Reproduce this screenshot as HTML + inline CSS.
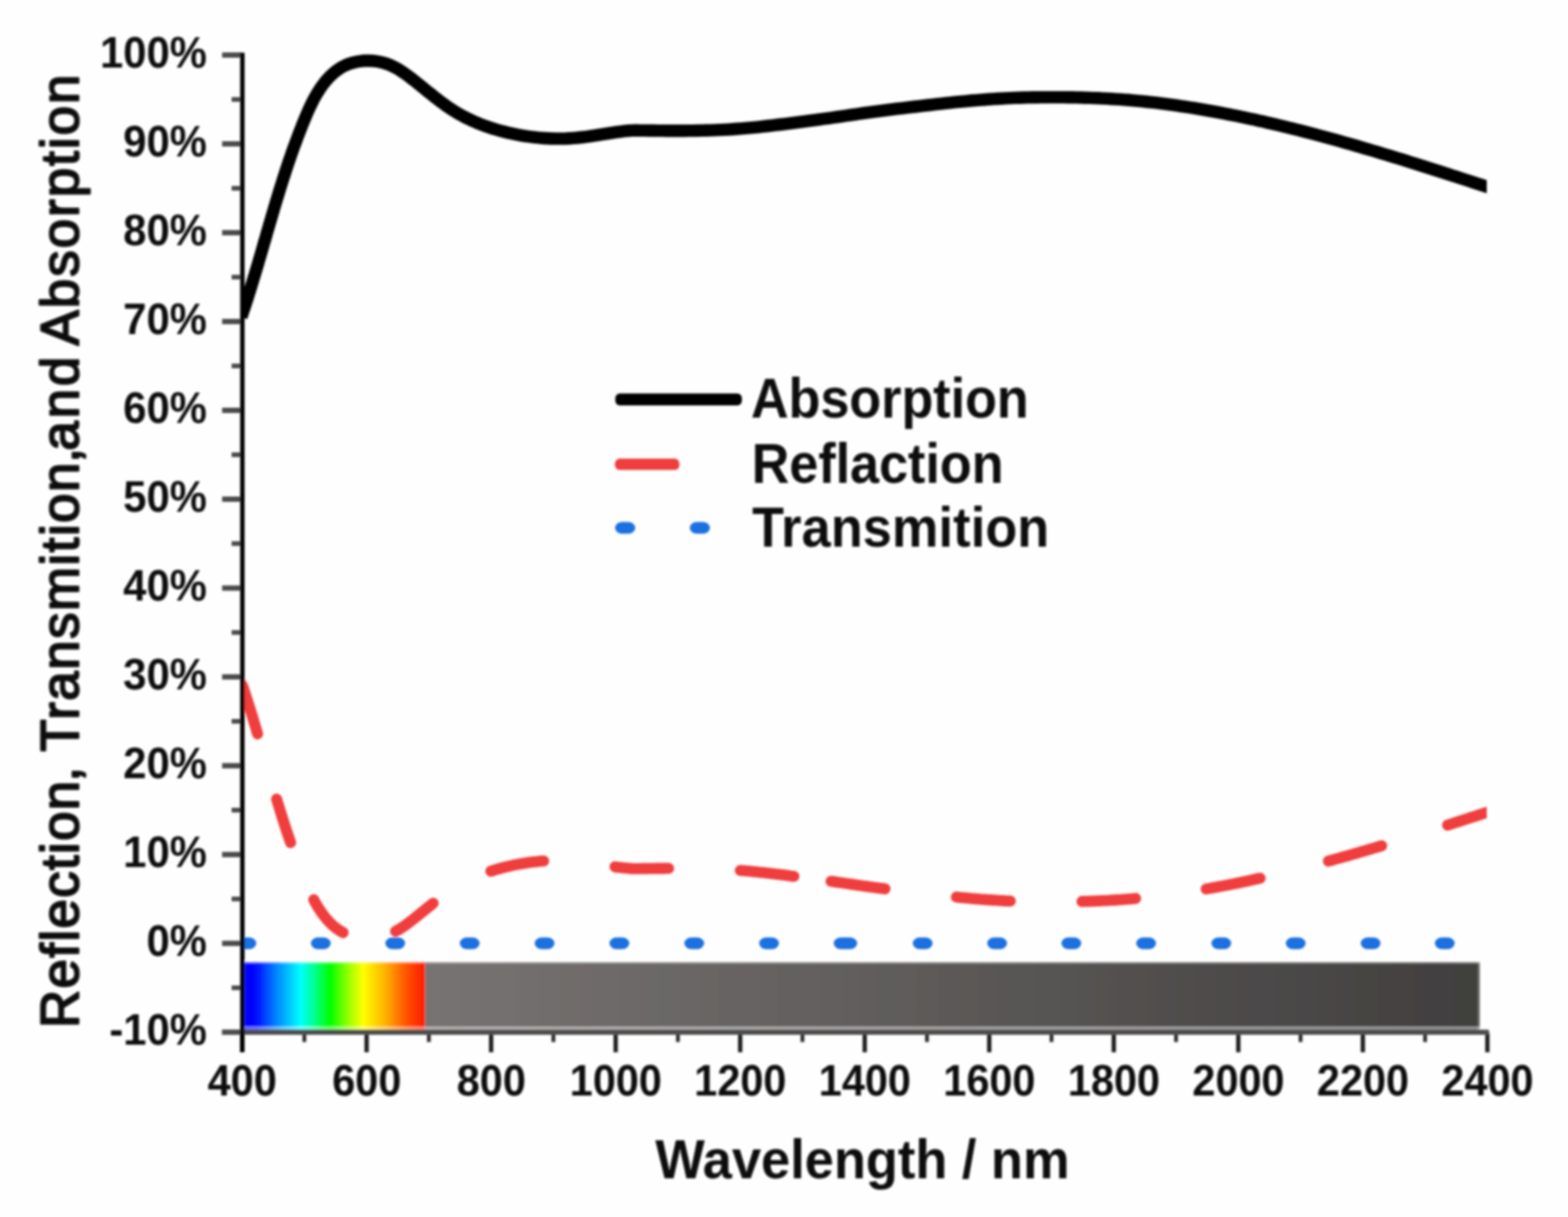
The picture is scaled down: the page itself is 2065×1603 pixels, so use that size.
<!DOCTYPE html>
<html lang="en"><head><meta charset="utf-8"><title>Reflection, Transmition, and Absorption</title>
<style>
html,body{margin:0;padding:0;background:#fff;}
body{width:2065px;height:1603px;overflow:hidden;}
svg{display:block;}
text{font-family:"Liberation Sans",Arial,Helvetica,sans-serif;fill:#0a0a0a;}
.b{font-weight:bold;}
</style></head><body>
<svg width="2065" height="1603" viewBox="0 0 2065 1603">
<defs>
<linearGradient id="rb" x1="0" y1="0" x2="1" y2="0">
<stop offset="0" stop-color="#0000ff"/>
<stop offset="0.06" stop-color="#0008ff"/>
<stop offset="0.17" stop-color="#0080ff"/>
<stop offset="0.31" stop-color="#00ffff"/>
<stop offset="0.385" stop-color="#00ff90"/>
<stop offset="0.474" stop-color="#00ff00"/>
<stop offset="0.57" stop-color="#90ff00"/>
<stop offset="0.657" stop-color="#ffff00"/>
<stop offset="0.78" stop-color="#ffb000"/>
<stop offset="0.9" stop-color="#ff5000"/>
<stop offset="1" stop-color="#ff1a00"/>
</linearGradient>
<linearGradient id="gr" x1="0" y1="0" x2="1" y2="0"><stop offset="0" stop-color="#777372"/><stop offset="1" stop-color="#403e3d"/></linearGradient>
<filter id="bl" x="-5%" y="-5%" width="110%" height="110%"><feGaussianBlur stdDeviation="1.8"/></filter>
<clipPath id="cp"><rect x="318.8" y="0" width="1639.2" height="1603"/></clipPath>
</defs>
<rect width="2065" height="1603" fill="#fefefe"/>
<g filter="url(#bl)">
<rect x="322.3" y="1267" width="237.4" height="90.5" fill="url(#rb)"/>
<rect x="559.7" y="1267" width="1389.3" height="90.5" fill="url(#gr)"/>
<rect x="322.3" y="1266.3" width="1626.7" height="3" fill="#ffffff" opacity="0.35"/>
<rect x="322.3" y="1352" width="1626.7" height="5" fill="#ffffff" opacity="0.42"/>
<rect x="1946" y="1267" width="3" height="90" fill="#ffffff" opacity="0.25"/>
<g clip-path="url(#cp)" fill="none">
<path d="M317.8,417.6 L319.4,412.9 L320.9,408.3 L322.5,403.6 L324.0,399.0 L325.5,394.3 L327.0,389.7 L328.4,385.0 L329.9,380.4 L331.3,375.7 L332.7,371.1 L334.1,366.4 L335.5,361.8 L336.9,357.1 L338.3,352.5 L339.7,347.9 L341.0,343.2 L342.4,338.6 L343.7,334.0 L345.1,329.4 L346.4,324.7 L347.7,320.1 L349.1,315.5 L350.4,310.9 L351.7,306.2 L353.1,301.6 L354.4,297.0 L355.7,292.4 L357.1,287.8 L358.4,283.2 L359.8,278.6 L361.1,274.0 L362.5,269.3 L363.9,264.7 L365.3,260.1 L366.7,255.5 L368.1,250.9 L369.5,246.3 L371.0,241.7 L372.4,237.1 L373.9,232.5 L375.4,227.9 L376.9,223.3 L378.4,218.7 L379.9,214.1 L381.5,209.5 L383.1,204.9 L384.7,200.3 L386.3,195.7 L388.0,191.2 L389.7,186.6 L391.4,182.0 L393.1,177.4 L394.9,172.8 L396.7,168.2 L398.5,163.6 L400.4,159.0 L402.3,154.4 L404.2,149.9 L406.2,145.3 L408.3,140.8 L410.4,136.4 L412.6,132.0 L414.9,127.7 L417.3,123.5 L419.9,119.4 L422.5,115.3 L425.3,111.5 L428.2,107.7 L431.3,104.1 L434.5,100.7 L437.9,97.5 L441.5,94.4 L445.3,91.6 L449.2,89.0 L453.4,86.8 L457.8,84.8 L462.3,83.2 L467.0,82.0 L471.7,81.0 L476.6,80.3 L481.5,80.0 L486.4,80.0 L491.3,80.2 L496.1,80.8 L501.0,81.7 L505.7,82.9 L510.3,84.4 L514.8,86.2 L519.1,88.3 L523.4,90.6 L527.5,93.1 L531.6,95.8 L535.6,98.6 L539.5,101.5 L543.3,104.5 L547.2,107.5 L551.0,110.6 L554.8,113.7 L558.5,116.7 L562.3,119.8 L566.1,122.8 L569.9,125.8 L573.6,128.8 L577.5,131.8 L581.3,134.7 L585.2,137.5 L589.1,140.3 L593.0,143.0 L597.1,145.6 L601.1,148.1 L605.3,150.6 L609.5,152.9 L613.8,155.1 L618.1,157.2 L622.5,159.3 L627.0,161.2 L631.5,163.1 L636.0,164.8 L640.6,166.5 L645.2,168.1 L649.9,169.6 L654.6,171.0 L659.3,172.3 L664.0,173.5 L668.7,174.7 L673.5,175.8 L678.3,176.8 L683.0,177.7 L687.8,178.6 L692.6,179.3 L697.4,180.0 L702.2,180.6 L706.9,181.2 L711.7,181.6 L716.5,182.0 L721.3,182.3 L726.2,182.5 L731.0,182.6 L735.8,182.6 L740.6,182.6 L745.4,182.5 L750.2,182.2 L755.0,181.9 L759.9,181.5 L764.7,181.0 L769.5,180.5 L774.3,179.8 L779.1,179.1 L784.0,178.4 L788.8,177.6 L793.6,176.9 L798.4,176.1 L803.2,175.3 L808.0,174.6 L812.8,173.9 L817.6,173.3 L822.4,172.7 L827.2,172.2 L832.0,171.9 L837.9,171.8 L843.6,171.9 L849.4,171.9 L855.2,172.0 L860.9,172.0 L866.7,172.1 L872.4,172.1 L878.2,172.2 L883.9,172.2 L889.7,172.2 L895.5,172.2 L901.2,172.2 L907.0,172.1 L912.7,172.1 L918.5,172.0 L924.2,171.9 L930.0,171.7 L935.7,171.6 L941.4,171.4 L947.2,171.1 L952.9,170.9 L958.7,170.6 L964.4,170.2 L970.2,169.8 L975.9,169.4 L981.6,168.9 L987.4,168.4 L993.1,167.9 L998.8,167.3 L1004.6,166.7 L1010.3,166.0 L1016.1,165.4 L1021.8,164.7 L1027.5,164.0 L1033.3,163.3 L1039.0,162.6 L1044.7,161.8 L1050.5,161.1 L1056.2,160.3 L1061.9,159.6 L1067.6,158.8 L1073.4,158.1 L1079.1,157.3 L1084.8,156.5 L1090.6,155.8 L1096.3,155.0 L1102.0,154.1 L1107.8,153.3 L1113.5,152.5 L1119.2,151.6 L1124.9,150.8 L1130.7,150.0 L1136.4,149.1 L1142.1,148.3 L1147.8,147.6 L1153.6,146.8 L1159.3,146.1 L1165.0,145.3 L1170.8,144.6 L1176.5,143.9 L1182.2,143.2 L1187.9,142.6 L1193.7,141.9 L1199.4,141.2 L1205.1,140.5 L1210.9,139.8 L1216.6,139.2 L1222.3,138.5 L1228.1,137.8 L1233.8,137.2 L1239.5,136.6 L1245.2,135.9 L1251.0,135.3 L1256.7,134.7 L1262.4,134.2 L1268.2,133.6 L1273.9,133.1 L1279.6,132.5 L1285.4,132.1 L1291.1,131.6 L1296.9,131.2 L1302.6,130.7 L1308.3,130.4 L1314.1,130.0 L1319.8,129.7 L1325.6,129.4 L1331.3,129.1 L1337.0,128.9 L1342.8,128.7 L1348.5,128.5 L1354.3,128.4 L1360.0,128.3 L1365.8,128.2 L1371.5,128.1 L1377.3,128.1 L1383.0,128.1 L1388.8,128.1 L1394.5,128.1 L1400.3,128.1 L1406.0,128.2 L1411.8,128.3 L1417.5,128.4 L1423.3,128.5 L1429.0,128.7 L1434.8,128.9 L1440.6,129.1 L1446.3,129.3 L1452.1,129.6 L1457.8,129.9 L1463.6,130.2 L1469.3,130.6 L1475.1,130.9 L1480.8,131.4 L1486.6,131.8 L1492.3,132.3 L1498.1,132.8 L1503.8,133.4 L1509.6,134.0 L1515.3,134.6 L1521.0,135.2 L1526.8,135.9 L1532.5,136.6 L1538.2,137.4 L1544.0,138.1 L1549.7,138.9 L1555.4,139.8 L1561.1,140.6 L1566.8,141.5 L1572.6,142.4 L1578.3,143.3 L1584.0,144.3 L1589.7,145.3 L1595.4,146.3 L1601.1,147.3 L1606.7,148.4 L1612.4,149.5 L1618.1,150.6 L1623.8,151.7 L1629.4,152.8 L1635.1,154.0 L1640.8,155.2 L1646.4,156.4 L1652.1,157.6 L1657.7,158.9 L1663.3,160.1 L1668.9,161.4 L1674.6,162.7 L1680.2,164.0 L1685.8,165.4 L1691.4,166.7 L1697.0,168.1 L1702.6,169.5 L1708.2,170.9 L1713.8,172.3 L1719.3,173.7 L1724.9,175.2 L1730.5,176.7 L1736.0,178.1 L1741.6,179.6 L1747.2,181.1 L1752.7,182.6 L1758.3,184.2 L1763.8,185.7 L1769.3,187.3 L1774.9,188.9 L1780.4,190.4 L1786.0,192.0 L1791.5,193.6 L1797.0,195.3 L1802.5,196.9 L1808.0,198.5 L1813.6,200.2 L1819.1,201.8 L1824.6,203.5 L1830.1,205.2 L1835.6,206.8 L1841.1,208.5 L1846.6,210.2 L1852.1,211.9 L1857.6,213.7 L1863.1,215.4 L1868.6,217.1 L1874.1,218.9 L1879.6,220.6 L1885.1,222.3 L1890.6,224.1 L1896.1,225.9 L1901.6,227.6 L1907.1,229.4 L1912.6,231.2 L1918.1,232.9 L1923.6,234.7 L1929.1,236.5 L1934.6,238.3 L1940.0,240.1 L1945.5,241.8 L1951.0,243.6 L1956.5,245.4 L1962.0,247.2" stroke="#000" stroke-width="16.4" stroke-linejoin="round"/>
<g stroke="#f03d3e" stroke-width="14.6" stroke-linecap="round" stroke-linejoin="round">
<path d="M316.0,898.4 L319.9,904.5 L323.7,916.2 L327.6,928.4 L331.5,940.8 L335.3,953.5 L339.2,966.6"/>
<path d="M364.3,1052.6 L368.0,1064.7 L371.7,1076.5 L375.3,1088.0 L379.0,1099.1 L382.7,1109.9"/>
<path d="M413.2,1185.1 L416.7,1191.5 L420.2,1197.2 L423.8,1202.4 L427.3,1207.1 L430.8,1211.3 L434.3,1215.1 L437.8,1218.5 L441.3,1221.5 L444.9,1224.1 L448.4,1226.4 L451.9,1228.4"/>
<path d="M521.0,1226.7 L524.3,1224.9 L527.6,1222.9 L530.9,1220.7 L534.2,1218.4 L537.5,1216.0 L540.8,1213.5 L544.1,1211.0 L547.3,1208.3 L550.6,1205.7 L553.9,1203.0 L557.2,1200.3 L560.5,1197.7 L563.8,1195.0 L567.1,1192.4 L570.4,1189.7"/>
<path d="M646.5,1147.5 L649.7,1146.5 L652.8,1145.5 L656.0,1144.6 L659.1,1143.7 L662.3,1142.9 L665.5,1142.1 L668.6,1141.3 L671.8,1140.6 L674.9,1139.9 L678.1,1139.2 L681.2,1138.6 L684.4,1138.0 L687.6,1137.5 L690.7,1137.0 L693.9,1136.5 L697.0,1136.0 L700.2,1135.6 L703.4,1135.2 L706.5,1134.9 L709.7,1134.6 L712.8,1134.3 L716.0,1134.0"/>
<path d="M810.0,1141.7 L813.2,1142.2 L816.4,1142.6 L819.6,1143.0 L822.8,1143.3 L826.0,1143.6 L829.2,1143.9 L832.4,1144.1 L835.6,1144.2 L838.8,1144.2 L842.0,1144.2 L845.2,1144.1 L848.5,1144.1 L851.7,1144.1 L854.9,1144.0 L858.1,1144.0 L861.3,1144.0 L864.5,1143.9 L867.7,1143.9 L870.9,1143.9 L874.1,1143.9 L877.3,1143.8 L880.5,1143.8"/>
<path d="M975.0,1146.5 L978.2,1146.8 L981.4,1147.1 L984.6,1147.3 L987.8,1147.6 L991.0,1147.9 L994.2,1148.2 L997.4,1148.6 L1000.6,1148.9 L1003.8,1149.2 L1007.0,1149.6 L1010.2,1149.9 L1013.5,1150.3 L1016.7,1150.7 L1019.9,1151.1 L1023.1,1151.4 L1026.3,1151.8 L1029.5,1152.2 L1032.7,1152.6 L1035.9,1153.0 L1039.1,1153.4 L1042.3,1153.9 L1045.5,1154.3"/>
<path d="M1094.5,1160.8 L1097.7,1161.2 L1101.0,1161.7 L1104.2,1162.2 L1107.4,1162.6 L1110.6,1163.1 L1113.9,1163.6 L1117.1,1164.1 L1120.3,1164.5 L1123.5,1165.0 L1126.8,1165.5 L1130.0,1165.9 L1133.2,1166.4 L1136.5,1166.9 L1139.7,1167.3 L1142.9,1167.8 L1146.1,1168.2 L1149.4,1168.6 L1152.6,1169.1 L1155.8,1169.5 L1159.0,1169.9 L1162.3,1170.3 L1165.5,1170.7"/>
<path d="M1259.5,1181.6 L1262.7,1181.9 L1266.0,1182.2 L1269.2,1182.5 L1272.4,1182.8 L1275.6,1183.1 L1278.9,1183.4 L1282.1,1183.7 L1285.3,1183.9 L1288.5,1184.2 L1291.8,1184.5 L1295.0,1184.7 L1298.2,1184.9 L1301.5,1185.2 L1304.7,1185.4 L1307.9,1185.6 L1311.1,1185.8 L1314.4,1186.0 L1317.6,1186.2 L1320.8,1186.4 L1324.0,1186.6 L1327.3,1186.7 L1330.5,1186.9"/>
<path d="M1425.0,1187.4 L1428.2,1187.3 L1431.4,1187.2 L1434.6,1187.1 L1437.8,1187.0 L1441.0,1186.9 L1444.2,1186.8 L1447.4,1186.6 L1450.6,1186.5 L1453.8,1186.3 L1457.0,1186.2 L1460.2,1186.0 L1463.5,1185.8 L1466.7,1185.6 L1469.9,1185.4 L1473.1,1185.2 L1476.3,1185.0 L1479.5,1184.7 L1482.7,1184.5 L1485.9,1184.2 L1489.1,1184.0 L1492.3,1183.7 L1495.5,1183.4"/>
<path d="M1588.5,1170.9 L1591.7,1170.4 L1595.0,1169.8 L1598.2,1169.2 L1601.4,1168.6 L1604.6,1168.0 L1607.9,1167.4 L1611.1,1166.8 L1614.3,1166.2 L1617.5,1165.6 L1620.8,1164.9 L1624.0,1164.3 L1627.2,1163.6 L1630.5,1163.0 L1633.7,1162.3 L1636.9,1161.6 L1640.1,1161.0 L1643.4,1160.3 L1646.6,1159.6 L1649.8,1158.9 L1653.0,1158.2 L1656.3,1157.5 L1659.5,1156.7"/>
<path d="M1749.5,1134.2 L1752.7,1133.4 L1755.9,1132.5 L1759.0,1131.6 L1762.2,1130.7 L1765.4,1129.8 L1768.6,1128.9 L1771.8,1128.0 L1775.0,1127.1 L1778.1,1126.2 L1781.3,1125.3 L1784.5,1124.4 L1787.7,1123.5 L1790.9,1122.5 L1794.0,1121.6 L1797.2,1120.7 L1800.4,1119.7 L1803.6,1118.8 L1806.8,1117.9 L1810.0,1116.9 L1813.1,1116.0 L1816.3,1115.0 L1819.5,1114.0"/>
<path d="M1906.5,1086.8 L1909.8,1085.8 L1913.0,1084.7 L1916.3,1083.6 L1919.6,1082.6 L1922.8,1081.5 L1926.1,1080.5 L1929.4,1079.4 L1932.6,1078.4 L1935.9,1077.3 L1939.1,1076.2 L1942.4,1075.2 L1945.7,1074.1 L1948.9,1073.0 L1952.2,1072.0 L1955.5,1070.9 L1958.7,1069.9 L1962.0,1068.8"/>
</g>
<g fill="#1a6fdf">
<rect x="311.5" y="1234.7" width="26.0" height="15.6" rx="9.5" ry="7.8"/>
<rect x="409.5" y="1234.7" width="26.0" height="15.6" rx="9.5" ry="7.8"/>
<rect x="507.5" y="1234.7" width="26.0" height="15.6" rx="9.5" ry="7.8"/>
<rect x="605.6" y="1234.7" width="26.0" height="15.6" rx="9.5" ry="7.8"/>
<rect x="704.2" y="1234.7" width="26.0" height="15.6" rx="9.5" ry="7.8"/>
<rect x="802.7" y="1234.7" width="26.0" height="15.6" rx="9.5" ry="7.8"/>
<rect x="901.3" y="1234.7" width="26.0" height="15.6" rx="9.5" ry="7.8"/>
<rect x="999.8" y="1234.7" width="26.0" height="15.6" rx="9.5" ry="7.8"/>
<rect x="1098.0" y="1234.7" width="30.8" height="15.6" rx="9.5" ry="7.8"/>
<rect x="1202.1" y="1234.7" width="26.0" height="15.6" rx="9.5" ry="7.8"/>
<rect x="1300.2" y="1234.7" width="26.0" height="15.6" rx="9.5" ry="7.8"/>
<rect x="1397.9" y="1234.7" width="26.0" height="15.6" rx="9.5" ry="7.8"/>
<rect x="1496.4" y="1234.7" width="26.0" height="15.6" rx="9.5" ry="7.8"/>
<rect x="1595.4" y="1234.7" width="26.0" height="15.6" rx="9.5" ry="7.8"/>
<rect x="1693.4" y="1234.7" width="26.0" height="15.6" rx="9.5" ry="7.8"/>
<rect x="1792.0" y="1234.7" width="26.0" height="15.6" rx="9.5" ry="7.8"/>
<rect x="1889.7" y="1234.7" width="26.0" height="15.6" rx="9.5" ry="7.8"/>
</g>
</g>
<g fill="none">
<path d="M292.5,1359.6 H319" stroke="#4c4c4c" stroke-width="7"/>
<path d="M305,1301.1 H319" stroke="#4c4c4c" stroke-width="6.2"/>
<path d="M292.5,1242.6 H319" stroke="#4c4c4c" stroke-width="7"/>
<path d="M305,1184.1 H319" stroke="#4c4c4c" stroke-width="6.2"/>
<path d="M292.5,1125.6 H319" stroke="#4c4c4c" stroke-width="7"/>
<path d="M305,1067.1 H319" stroke="#4c4c4c" stroke-width="6.2"/>
<path d="M292.5,1008.6 H319" stroke="#4c4c4c" stroke-width="7"/>
<path d="M305,950.1 H319" stroke="#4c4c4c" stroke-width="6.2"/>
<path d="M292.5,891.6 H319" stroke="#4c4c4c" stroke-width="7"/>
<path d="M305,833.1 H319" stroke="#4c4c4c" stroke-width="6.2"/>
<path d="M292.5,774.6 H319" stroke="#4c4c4c" stroke-width="7"/>
<path d="M305,716.0 H319" stroke="#4c4c4c" stroke-width="6.2"/>
<path d="M292.5,657.5 H319" stroke="#4c4c4c" stroke-width="7"/>
<path d="M305,599.0 H319" stroke="#4c4c4c" stroke-width="6.2"/>
<path d="M292.5,540.5 H319" stroke="#4c4c4c" stroke-width="7"/>
<path d="M305,482.0 H319" stroke="#4c4c4c" stroke-width="6.2"/>
<path d="M292.5,423.5 H319" stroke="#4c4c4c" stroke-width="7"/>
<path d="M305,365.0 H319" stroke="#4c4c4c" stroke-width="6.2"/>
<path d="M292.5,306.5 H319" stroke="#4c4c4c" stroke-width="7"/>
<path d="M305,248.0 H319" stroke="#4c4c4c" stroke-width="6.2"/>
<path d="M292.5,189.5 H319" stroke="#4c4c4c" stroke-width="7"/>
<path d="M305,131.0 H319" stroke="#4c4c4c" stroke-width="6.2"/>
<path d="M292.5,72.5 H319" stroke="#4c4c4c" stroke-width="7"/>
<path d="M318.8,1359.6 V1386" stroke="#1a1a1a" stroke-width="5.6"/>
<path d="M400.8,1359.6 V1372.5" stroke="#2a2a2a" stroke-width="5"/>
<path d="M482.8,1359.6 V1386" stroke="#1a1a1a" stroke-width="5.6"/>
<path d="M564.8,1359.6 V1372.5" stroke="#2a2a2a" stroke-width="5"/>
<path d="M646.8,1359.6 V1386" stroke="#1a1a1a" stroke-width="5.6"/>
<path d="M728.8,1359.6 V1372.5" stroke="#2a2a2a" stroke-width="5"/>
<path d="M810.8,1359.6 V1386" stroke="#1a1a1a" stroke-width="5.6"/>
<path d="M892.8,1359.6 V1372.5" stroke="#2a2a2a" stroke-width="5"/>
<path d="M974.8,1359.6 V1386" stroke="#1a1a1a" stroke-width="5.6"/>
<path d="M1056.8,1359.6 V1372.5" stroke="#2a2a2a" stroke-width="5"/>
<path d="M1138.8,1359.6 V1386" stroke="#1a1a1a" stroke-width="5.6"/>
<path d="M1220.8,1359.6 V1372.5" stroke="#2a2a2a" stroke-width="5"/>
<path d="M1302.8,1359.6 V1386" stroke="#1a1a1a" stroke-width="5.6"/>
<path d="M1384.8,1359.6 V1372.5" stroke="#2a2a2a" stroke-width="5"/>
<path d="M1466.8,1359.6 V1386" stroke="#1a1a1a" stroke-width="5.6"/>
<path d="M1548.8,1359.6 V1372.5" stroke="#2a2a2a" stroke-width="5"/>
<path d="M1630.8,1359.6 V1386" stroke="#1a1a1a" stroke-width="5.6"/>
<path d="M1712.8,1359.6 V1372.5" stroke="#2a2a2a" stroke-width="5"/>
<path d="M1794.8,1359.6 V1386" stroke="#1a1a1a" stroke-width="5.6"/>
<path d="M1876.8,1359.6 V1372.5" stroke="#2a2a2a" stroke-width="5"/>
<path d="M1958.8,1359.6 V1386" stroke="#1a1a1a" stroke-width="5.6"/>
<path d="M292.5,1359.6 H1960.8" stroke="#4d4d4d" stroke-width="6.6"/>
<path d="M319.2,69.4 V1386" stroke="#000" stroke-width="5.8"/>
</g>
<rect x="810.4" y="518.2" width="166.6" height="15.8" rx="6" ry="6" fill="#000"/>
<rect x="809.8" y="604.1" width="85" height="15" rx="6.5" ry="6.5" fill="#f03d3e"/>
<rect x="810" y="687.4" width="26.6" height="15.6" rx="9.5" ry="7.8" fill="#1a6fdf"/>
<rect x="908.4" y="687.4" width="26.6" height="15.6" rx="9.5" ry="7.8" fill="#1a6fdf"/>
<g class="b" font-size="55" text-anchor="end">
<text transform="translate(272.4,1376.2) scale(1,1.06)">-10%</text>
<text transform="translate(272.4,1259.2) scale(1,1.06)">0%</text>
<text transform="translate(272.4,1142.2) scale(1,1.06)">10%</text>
<text transform="translate(272.4,1025.2) scale(1,1.06)">20%</text>
<text transform="translate(272.4,908.2) scale(1,1.06)">30%</text>
<text transform="translate(272.4,791.2) scale(1,1.06)">40%</text>
<text transform="translate(272.4,674.1) scale(1,1.06)">50%</text>
<text transform="translate(272.4,557.1) scale(1,1.06)">60%</text>
<text transform="translate(272.4,440.1) scale(1,1.06)">70%</text>
<text transform="translate(272.4,323.1) scale(1,1.06)">80%</text>
<text transform="translate(272.4,206.1) scale(1,1.06)">90%</text>
<text transform="translate(272.4,89.1) scale(1,1.06)">100%</text>
</g>
<g class="b" font-size="54.6" text-anchor="middle">
<text transform="translate(319.0,1442.8) scale(1,1.06)">400</text>
<text transform="translate(483.0,1442.8) scale(1,1.06)">600</text>
<text transform="translate(647.0,1442.8) scale(1,1.06)">800</text>
<text transform="translate(811.0,1442.8) scale(1,1.06)">1000</text>
<text transform="translate(975.0,1442.8) scale(1,1.06)">1200</text>
<text transform="translate(1139.0,1442.8) scale(1,1.06)">1400</text>
<text transform="translate(1303.0,1442.8) scale(1,1.06)">1600</text>
<text transform="translate(1467.0,1442.8) scale(1,1.06)">1800</text>
<text transform="translate(1631.0,1442.8) scale(1,1.06)">2000</text>
<text transform="translate(1795.0,1442.8) scale(1,1.06)">2200</text>
<text transform="translate(1959.0,1442.8) scale(1,1.06)">2400</text>
</g>
<g class="b" font-size="68.6">
<text transform="translate(989,550.4) scale(1,1.07)">Absorption</text>
<text transform="translate(990,635.5) scale(1,1.07)">Reflaction</text>
<text transform="translate(990.5,719.6) scale(1,1.07)" style="letter-spacing:0.25px">Transmition</text>
</g>
<text class="b" font-size="69" transform="translate(1135.8,1552.4) scale(1,1.05)" text-anchor="middle">Wavelength / nm</text>
<text font-size="69.5" transform="translate(103.2,0) rotate(-90)" stroke="#0a0a0a" stroke-width="2.5" stroke-linejoin="round" y="0"><tspan x="-1354" style="letter-spacing:1.83px">Reflection</tspan><tspan x="-1029.6">, </tspan><tspan x="-990" style="letter-spacing:2.02px">Transmition</tspan><tspan x="-609.6">,</tspan><tspan x="-593.5" style="letter-spacing:3.8px">and </tspan><tspan x="-455" style="letter-spacing:2.72px">Absorption</tspan></text>
</g>
</svg>
</body></html>
